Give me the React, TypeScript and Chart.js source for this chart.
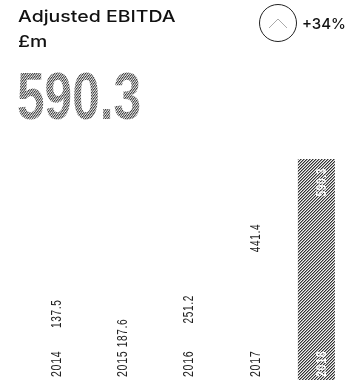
import React, { useEffect, useRef } from "react";
import { Chart, registerables } from "chart.js";

Chart.register(...registerables);

const years = ["2014", "2015", "2016", "2017", "2018"];
const ebitda = [137.5, 187.6, 251.2, 441.4, 590.3];
const valueLabels = ["137.5", "187.6", "251.2", "441.4", "590.3"];
const title = "Adjusted EBITDA";
const unit = "£m";
const headline = "590.3";
const change = "+34%";

const NARROW = '"Liberation Sans", sans-serif';

function makeHatchCanvas(): HTMLCanvasElement {
  const c = document.createElement("canvas");
  c.width = 3;
  c.height = 3;
  const g = c.getContext("2d")!;
  const shades = ["#333333", "#999999", "#f2f2f2"];
  for (let y = 0; y < 3; y++) {
    for (let x = 0; x < 3; x++) {
      g.fillStyle = shades[(x + y) % 3];
      g.fillRect(x, y, 1, 1);
    }
  }
  return c;
}

const rotatedLabels = {
  id: "rotatedLabels",
  afterDatasetsDraw(chart: any) {
    const { ctx, scales } = chart;
    const meta = chart.getDatasetMeta(0);
    const bottom = scales.y.getPixelForValue(0);
    ctx.save();
    ctx.textBaseline = "middle";
    (ctx as any).letterSpacing = "0.9px";
    meta.data.forEach((bar: any, i: number) => {
      const x = bar.x + 5.5;
      const last = i === years.length - 1;
      ctx.font = `${last ? "bold " : ""}14px ${NARROW}`;
      ctx.fillStyle = last ? "#fff" : "#222";
      ctx.save();
      ctx.translate(x, bottom - 3);
      ctx.rotate(-Math.PI / 2);
      ctx.scale(0.76, 1);
      ctx.textAlign = "left";
      ctx.fillText(years[i], 0, 0);
      ctx.restore();
      // The first label is lifted clear of its year label, as in the reference.
      const lift = i === 0 ? 38 : 0;
      ctx.save();
      ctx.translate(x, bar.y + 9 - lift);
      ctx.rotate(-Math.PI / 2);
      ctx.scale(0.72, 1);
      ctx.textAlign = "right";
      ctx.fillText(valueLabels[i], 0, 0);
      ctx.restore();
    });
    ctx.restore();
  },
};

export default function App() {
  const ref = useRef<HTMLCanvasElement>(null);
  const headRef = useRef<HTMLDivElement>(null);

  useEffect(() => {
    document.body.style.margin = "0";
    const ctx = ref.current!.getContext("2d")!;
    const tile = makeHatchCanvas();
    const hatch = ctx.createPattern(tile, "repeat")!;
    headRef.current!.style.backgroundImage = `url(${tile.toDataURL()})`;
    const chart = new Chart(ctx, {
      type: "bar",
      data: {
        labels: years,
        datasets: [
          {
            data: ebitda,
            backgroundColor: years.map((_, i) => (i === years.length - 1 ? hatch : "#ffffff")),
            borderWidth: 0,
            barPercentage: 0.56,
            categoryPercentage: 1,
          },
        ],
      },
      options: {
        animation: false,
        responsive: false,
        maintainAspectRatio: false,
        layout: { padding: { left: 18.5, right: 3.5, top: 159, bottom: 0 } },
        plugins: { legend: { display: false }, tooltip: { enabled: false } },
        scales: {
          x: { display: false },
          y: { display: false, min: 0, max: 590.3 },
        },
      },
      plugins: [rotatedLabels],
    });
    return () => chart.destroy();
  }, []);

  return (
    <div style={{ position: "relative", width: 353, height: 380, overflow: "hidden", background: "#fff" }}>
      <canvas ref={ref} width={353} height={380} style={{ position: "absolute", left: 0, top: 0, display: "block" }} />
      <div
        style={{
          position: "absolute",
          left: 18,
          top: 4,
          font: "500 16.5px/25px Inter, sans-serif",
          color: "#111",
          whiteSpace: "nowrap",
          transform: "scaleX(1.18)",
          transformOrigin: "left top",
        }}
      >
        {title}
        <br />
        {unit}
      </div>
      <div style={{ position: "absolute", left: 258.5, top: 4, width: 38, height: 38, borderRadius: "50%", border: "1px solid #222", boxSizing: "border-box" }}>
        <svg width="36" height="36" style={{ display: "block" }}>
          <polyline points="9,23 18,14 27,23" fill="none" stroke="#aaa" strokeWidth="1" />
        </svg>
      </div>
      <div style={{ position: "absolute", left: 302, top: 15, font: "500 15px/18px Inter, sans-serif", color: "#111", whiteSpace: "nowrap" }}>
        {change}
      </div>
      <div
        ref={headRef}
        style={{
          position: "absolute",
          left: 17,
          top: 60,
          font: `bold 67px/72px ${NARROW}`,
          whiteSpace: "nowrap",
          color: "transparent",
          WebkitBackgroundClip: "text",
          backgroundClip: "text",
          transform: "scaleX(0.74)",
          transformOrigin: "left top",
        }}
      >
        {headline}
      </div>
    </div>
  );
}
